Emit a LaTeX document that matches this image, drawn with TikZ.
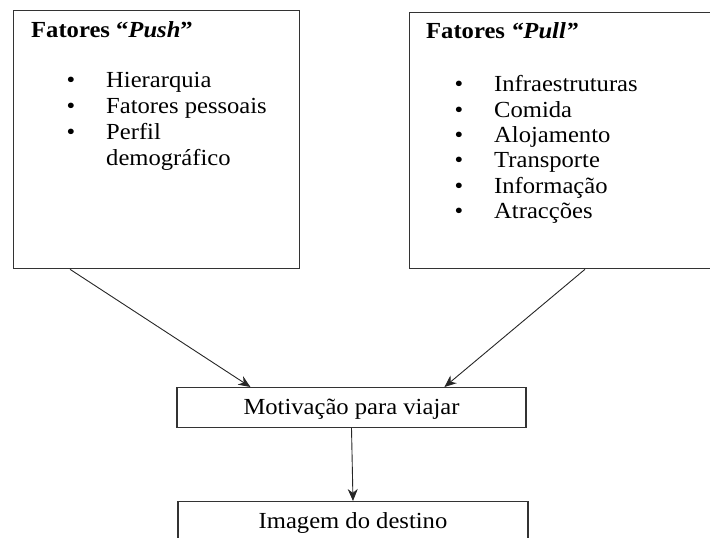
\documentclass[tikz,border=0pt]{standalone}
\usepackage{fontspec}
\setmainfont[FakeStretch=1.07]{Liberation Serif}
\usetikzlibrary{calc, arrows.meta}

\begin{document}
\begin{tikzpicture}[
    x=1pt, y=-1pt,
    >={Stealth[length=12pt,width=10pt]},
    factor box/.style={draw=black!80,line width=1.3pt,rectangle,anchor=north west,inner sep=0pt},
    flow box/.style={draw=black!80,line width=1.1pt,rectangle,anchor=north,inner sep=0pt,
        text height=27pt,font=\fontsize{23}{26}\selectfont},
    list item/.style={anchor=base west,inner sep=0pt,font=\fontsize{23}{26}\selectfont},
    bullet/.style={anchor=base,inner sep=0pt,font=\fontsize{23}{26}\selectfont},
    influence/.style={->,line width=0.9pt,black!85}
    ]
    \useasboundingbox (0,0) rectangle (710,538);
    % nodes
    % push
    \node [factor box,minimum width=286pt,minimum height=258pt] (push) at (13,10) {};
    \node [list item] (push title) at (31,37) {\textbf{Fatores “\textit{Push}”}};
    \foreach \y/\t [count=\i] in {87/Hierarquia,113/Fatores pessoais,139/Perfil} {
        \node [bullet] (push b\i) at (71,\y) {\textbullet};
        \node [list item] (push i\i) at (106,\y) {\t};
    }
    \node [list item] (push i4) at (106,165) {demográfico};
    % pull
    \node [factor box,minimum width=320pt,minimum height=256pt] (pull) at (409,12) {};
    \node [list item] (pull title) at (426,38) {\textbf{Fatores \textit{“Pull”}}};
    \foreach \y/\t [count=\i] in {91/Infraestruturas,117/Comida,142/Alojamento,
        167/Transporte,193/Informação,218/Atracções} {
        \node [bullet] (pull b\i) at (459,\y) {\textbullet};
        \node [list item] (pull i\i) at (494,\y) {\t};
    }
    % motivation
    \node [flow box,minimum width=349pt,text depth=13pt] (motiv) at (351.5,387) {Motivação para viajar};
    % image
    \node [flow box,minimum width=350pt,text depth=40pt] (image) at (353,501) {Imagem do destino};
    % edges
    \draw [influence] ($(push.south west)+(57,0)$) -- ($(motiv.north west)+(74,0)$);
    \draw [influence] ($(pull.south west)+(176,0)$) -- ($(motiv.north west)+(268,0)$);
    \draw [influence] (motiv.south) -- (image.north);
\end{tikzpicture}
\end{document}
